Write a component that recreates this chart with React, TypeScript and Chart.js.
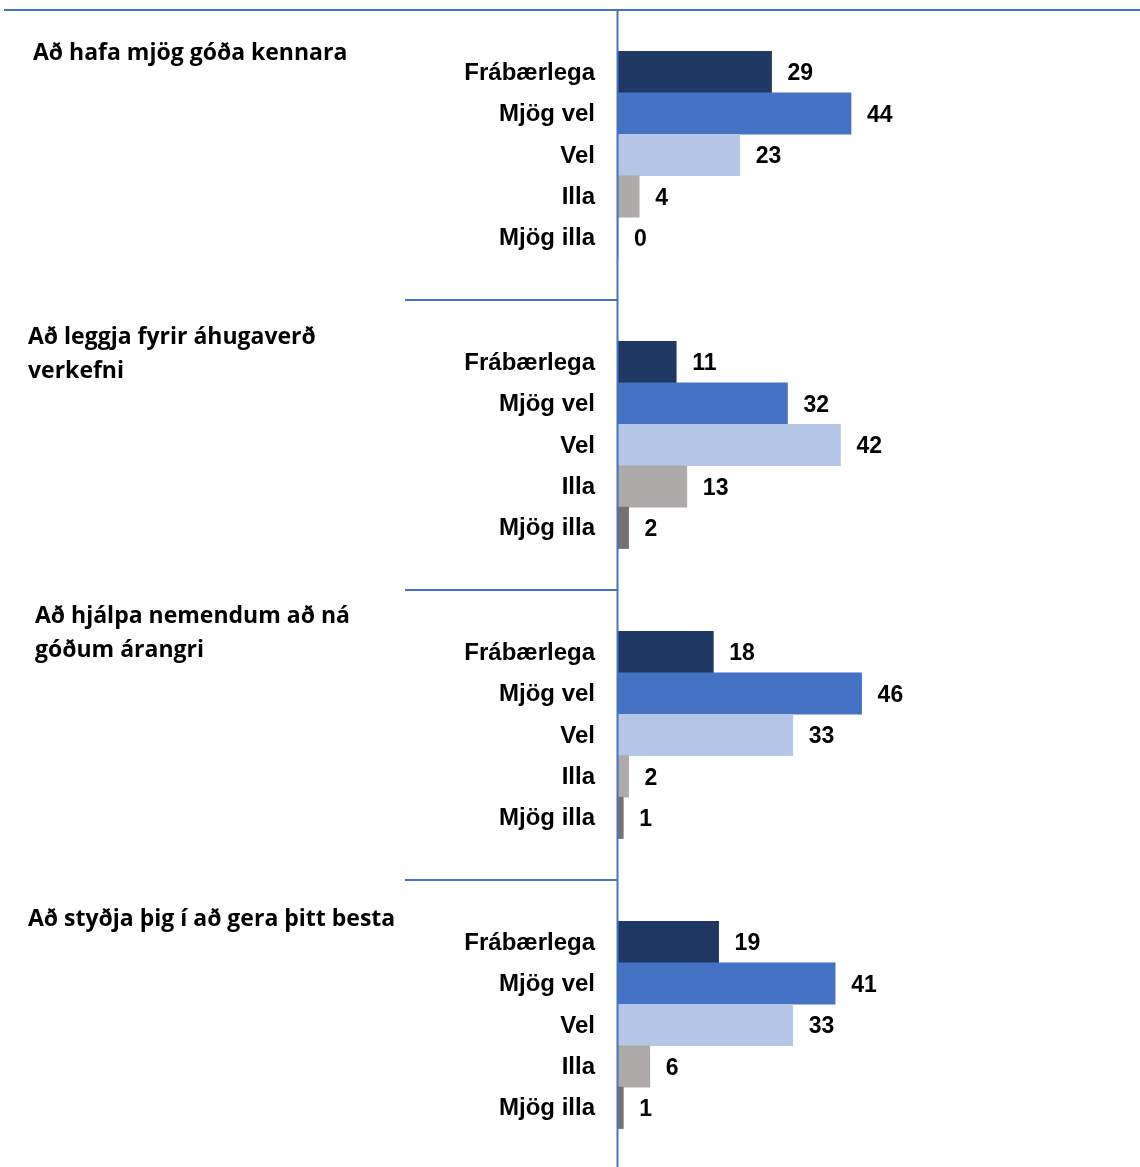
import React, { useEffect, useRef } from "react";
import { Chart, registerables } from "chart.js";

Chart.register(...registerables);

const categories = ["Frábærlega", "Mjög vel", "Vel", "Illa", "Mjög illa"];
const groupTitles: string[][] = [
  ["Að hafa mjög góða kennara"],
  ["Að leggja fyrir áhugaverð", "verkefni"],
  ["Að hjálpa nemendum að ná", "góðum árangri"],
  ["Að styðja þig í að gera þitt besta"],
];
const group1 = [29, 44, 23, 4, 0];
const group2 = [11, 32, 42, 13, 2];
const group3 = [18, 46, 33, 2, 1];
const group4 = [19, 41, 33, 6, 1];
const groups = [group1, group2, group3, group4];
const catColors = ["#203864", "#4472C4", "#B4C7E7", "#AEAAAA", "#767171"];

const SLOTS_PER_GROUP = 7;

export default function App() {
  const ref = useRef<HTMLCanvasElement | null>(null);

  useEffect(() => {
    document.body.style.margin = "0";
    const labels: string[] = [];
    const values: (number | null)[] = [];
    const colors: string[] = [];
    groups.forEach((g) => {
      labels.push("");
      values.push(null);
      colors.push("rgba(0,0,0,0)");
      g.forEach((v, i) => {
        labels.push(categories[i]);
        values.push(v);
        colors.push(catColors[i]);
      });
      labels.push("");
      values.push(null);
      colors.push("rgba(0,0,0,0)");
    });

    const titleOffsets = [
      { x: 33, y: 43 },
      { x: 28, y: 37 },
      { x: 35, y: 26 },
      { x: 28, y: 39 },
    ];

    const decor = {
      id: "decor",
      afterDatasetsDraw(chart: any) {
        const ctx = chart.ctx;
        const area = chart.chartArea;
        const meta = chart.getDatasetMeta(0);
        const slotH = (area.bottom - area.top) / labels.length;
        ctx.save();
        // value labels
        ctx.font = "bold 23px 'Liberation Sans', Arial, sans-serif";
        ctx.fillStyle = "#000";
        ctx.textAlign = "left";
        ctx.textBaseline = "middle";
        meta.data.forEach((bar: any, i: number) => {
          const v = values[i];
          if (v === null || v === undefined) return;
          ctx.fillText(String(v), bar.x + 16, bar.y + 2);
        });
        // lines
        ctx.strokeStyle = "#4472C4";
        ctx.lineWidth = 2;
        ctx.beginPath();
        ctx.moveTo(4, area.top);
        ctx.lineTo(1140, area.top);
        for (let g = 1; g < groups.length; g++) {
          const y = area.top + g * SLOTS_PER_GROUP * slotH;
          ctx.moveTo(405, y);
          ctx.lineTo(area.left, y);
        }
        ctx.moveTo(area.left - 0.5, area.top);
        ctx.lineTo(area.left - 0.5, chart.height);
        ctx.stroke();
        // titles
        ctx.font = "bold 23px 'Open Sans', sans-serif";
        ctx.fillStyle = "#000";
        groupTitles.forEach((lines, g) => {
          const top = area.top + g * SLOTS_PER_GROUP * slotH;
          lines.forEach((t, li) => {
            ctx.fillText(t, titleOffsets[g].x, top + titleOffsets[g].y + li * 34);
          });
        });
        ctx.restore();
      },
    };

    const chart = new Chart(ref.current as HTMLCanvasElement, {
      type: "bar",
      data: {
        labels,
        datasets: [
          {
            data: values as any,
            backgroundColor: colors,
            barPercentage: 1,
            categoryPercentage: 1,
            borderWidth: 0,
          },
        ],
      },
      options: {
        indexAxis: "y",
        responsive: false,
        animation: false,
        layout: { padding: { top: 10, bottom: 0, left: 0, right: 3 } },
        plugins: { legend: { display: false }, tooltip: { enabled: false } },
        scales: {
          x: { display: false, min: 0, max: 98 },
          y: {
            grid: { display: false, drawTicks: false },
            border: { display: false },
            ticks: {
              autoSkip: false,
              padding: 23,
              labelOffset: 1,
              color: "#000",
              font: { family: "'Liberation Sans', Arial, sans-serif", size: 24, weight: "bold" },
            },
            afterFit(scale: any) {
              scale.width = 618;
              scale.paddingTop = 0;
              scale.paddingBottom = 0;
            },
          },
        },
      },
      plugins: [decor],
    });
    return () => chart.destroy();
  }, []);

  return (
    <div style={{ width: 1140, height: 1167, overflow: "hidden" }}>
      <canvas ref={ref} width={1140} height={1170} style={{ display: "block" }} />
    </div>
  );
}
